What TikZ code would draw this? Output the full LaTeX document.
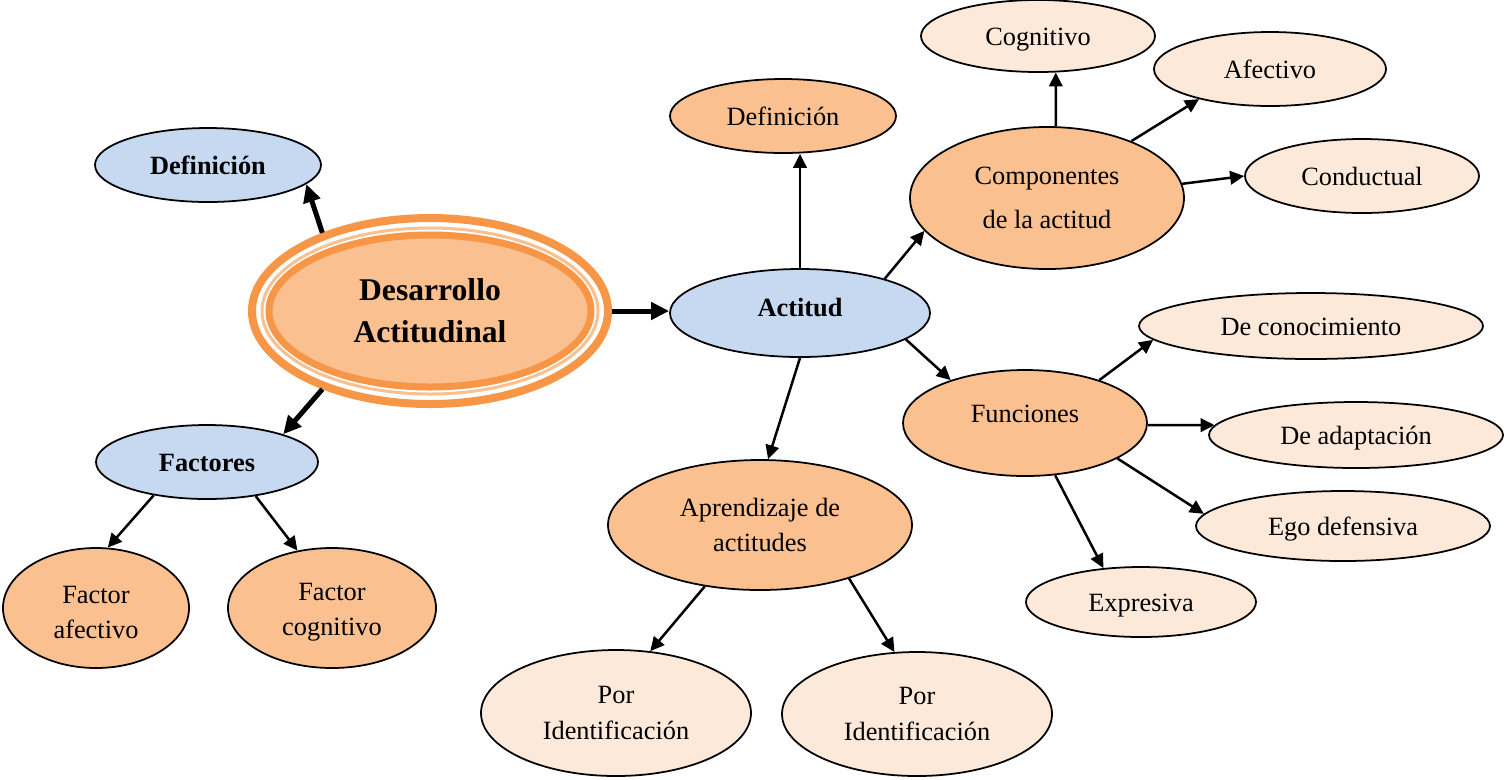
\documentclass[tikz,border=0pt]{standalone}
\usepackage{fontspec}
\setmainfont{Liberation Serif}
\usetikzlibrary{shapes.geometric,arrows.meta}
\definecolor{bluefill}{HTML}{C6D9F1}
\definecolor{orfill}{HTML}{FAC090}
\definecolor{peachfill}{HTML}{FDE9D9}
\definecolor{ringor}{HTML}{F79646}
\definecolor{ringlight}{HTML}{FAC090}
\begin{document}
\begin{tikzpicture}[x=0.02cm,y=-0.02cm,
  bub/.style={ellipse, draw=black, line width=1pt, inner sep=0pt, align=center,
    font=\fontsize{15}{20}\selectfont},
  sz/.style 2 args={minimum width=#1*0.02cm, minimum height=#2*0.02cm},
  oneline/.style={text height=13.9pt, text depth=3.24pt},
  bluebub/.style={bub, fill=bluefill, font=\fontsize{15}{20}\selectfont\bfseries},
  orbub/.style={bub, fill=orfill},
  peachbub/.style={bub, fill=peachfill},
  arr/.style={line width=0.05cm, -{Triangle[length=0.28cm,width=0.27cm]}},
  thk/.style={line width=0.1cm, -{Triangle[length=0.36cm,width=0.34cm]}}
]
\useasboundingbox (0,0) rectangle (1504,779);

% central node
\node[ellipse, draw=ringor, line width=0.16cm, fill=white, inner sep=0pt, sz={356}{186}] (des) at (430,311) {};
\node[ellipse, draw=ringlight, line width=0.06cm, inner sep=0pt, sz={336}{166}] (desring) at (430,311) {};
\node[ellipse, draw=ringor, line width=0.14cm, fill=orfill, inner sep=0pt, align=center, sz={322}{152},
  font=\fontsize{18}{24}\selectfont\bfseries] (desin) at (430,311) {Desarrollo\\Actitudinal};

\node[bluebub, oneline, sz={226}{74}] (defL) at (208,165) {Definición};
\node[bluebub, sz={260}{88}] (act) at (800,313) {\raisebox{6.8pt}{Actitud}};
\node[bluebub, oneline, sz={222}{74}] (fac) at (207,462) {Factores};
\node[orbub, sz={186}{120}] (fa) at (96,608) {\rule{0pt}{14.7pt}Factor\\afectivo};
\node[orbub, sz={208}{120}] (fc) at (332,608) {\rule{0pt}{14.7pt}Factor\\cognitivo};
\node[orbub, oneline, sz={226}{74}] (defR) at (783,116) {Definición};
\node[peachbub, oneline, sz={234}{72}] (cog) at (1038,36) {Cognitivo};
\node[peachbub, oneline, sz={232}{74}] (afe) at (1270,69) {Afectivo};
\node[peachbub, oneline, sz={234}{74}] (cond) at (1362,176) {Conductual};
\node[orbub, sz={274}{142}] (comp) at (1047,198) {Componentes\\[5pt]de la actitud};
\node[orbub, sz={244}{106}] (fun) at (1025,423) {\raisebox{11pt}{Funciones}};
\node[peachbub, oneline, sz={344}{66}] (con) at (1311,326) {De conocimiento};
\node[peachbub, oneline, sz={294}{66}] (ada) at (1356,435) {De adaptación};
\node[peachbub, oneline, sz={294}{70}] (ego) at (1343,526) {Ego defensiva};
\node[peachbub, oneline, sz={230}{70}] (exp) at (1141,602) {Expresiva};
\node[orbub, sz={304}{130}] (apr) at (760,525) {Aprendizaje de\\actitudes};
\node[peachbub, sz={270}{126}] (p1) at (616,713) {Por\\Identificación};
\node[peachbub, sz={270}{124}] (p2) at (917,714) {Por\\Identificación};

% connectors
\draw[thk] (des.144.5) -- (defL.-11.3);
\draw[thk] (des.216.5) -- (fac.20.6);
\draw[thk] (des.east) -- (des.east -| act.west);
\draw[arr] (act.north) -- (act.north |- defR.south);
\draw[arr] (act.22.7) -- (comp.195.1);
\draw[arr] (act.-14.5) -- (fun.150.3);
\draw[arr] (act.south) -- (apr.83.4);
\draw[arr] (comp.83.6) -- (cog.-64.7);
\draw[arr] (comp.34.4) -- (afe.203.1);
\draw[arr] (comp.6.6) -- (cond.west);
\draw[arr] (fun.30.5) -- (con.185.5);
\draw[arr] (fun.-1.9) -- (ada.176.8);
\draw[arr] (fun.-21) -- (ego.175.3);
\draw[arr] (fun.-60.9) -- (exp.138.7);
\draw[arr] (fac.212.3) -- (fa.79.8);
\draw[arr] (fac.-35.8) -- (fc.121);
\draw[arr] (apr.228.1) -- (p1.61.7);
\draw[arr] (apr.-31.9) -- (p2.110);
\end{tikzpicture}
\end{document}
